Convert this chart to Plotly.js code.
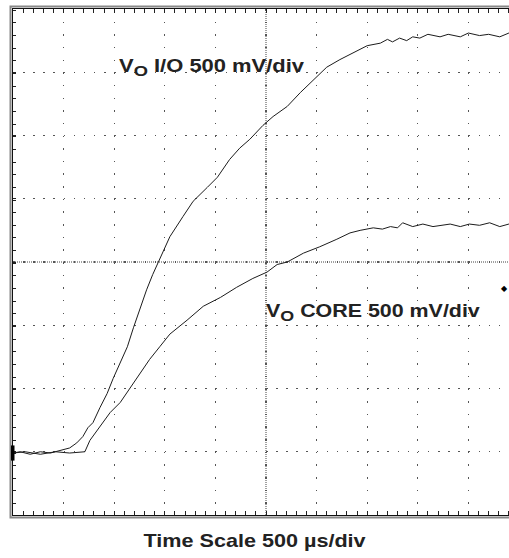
<!DOCTYPE html>
<html>
<head>
<meta charset="utf-8">
<script src="https://cdn.plot.ly/plotly-3.0.1.min.js"></script>
<style>
html, body { margin: 0; padding: 0; overflow: hidden; background: #fff; }
#chart { width: 530px; height: 558px; }
</style>
</head>
<body>
<div id="chart"></div>
<script>
// Time in microseconds (500 us/div), voltage in volts (500 mV/div)
const ioTime = [0, 70, 170, 270, 370, 460, 560, 630, 690, 740, 790, 860, 930, 990, 1060, 1130, 1190, 1250, 1320, 1380, 1450, 1550, 1680, 1780, 1920, 2020, 2140, 2240, 2340, 2470, 2570, 2710, 2840, 2960, 3100, 3230, 3360, 3500, 3630, 3700, 3750, 3820, 3890, 3950, 4020, 4100, 4220, 4300, 4420, 4500, 4610, 4700, 4810, 4900, 5000];
const ioVolt = [0.00, 0.01, -0.01, 0.01, 0.00, 0.02, 0.04, 0.08, 0.13, 0.20, 0.24, 0.36, 0.47, 0.59, 0.71, 0.84, 0.99, 1.13, 1.29, 1.41, 1.53, 1.71, 1.87, 1.99, 2.10, 2.18, 2.32, 2.41, 2.48, 2.59, 2.66, 2.74, 2.85, 2.94, 3.05, 3.11, 3.16, 3.22, 3.24, 3.27, 3.25, 3.28, 3.26, 3.29, 3.28, 3.31, 3.29, 3.31, 3.29, 3.32, 3.30, 3.31, 3.29, 3.32, 3.31];
const coreTime = [0, 120, 270, 420, 560, 710, 760, 830, 960, 1060, 1160, 1250, 1350, 1450, 1550, 1720, 1880, 2050, 2210, 2370, 2510, 2610, 2710, 2870, 3030, 3200, 3330, 3430, 3560, 3650, 3730, 3800, 3850, 3950, 4050, 4150, 4220, 4320, 4420, 4510, 4610, 4710, 4810, 4900, 5000];
const coreVolt = [0.00, 0.01, -0.01, 0.01, 0.00, 0.01, 0.10, 0.18, 0.32, 0.40, 0.52, 0.63, 0.74, 0.84, 0.94, 1.05, 1.16, 1.23, 1.31, 1.38, 1.43, 1.49, 1.51, 1.58, 1.63, 1.69, 1.74, 1.76, 1.78, 1.77, 1.79, 1.78, 1.82, 1.79, 1.81, 1.79, 1.80, 1.81, 1.79, 1.81, 1.80, 1.82, 1.79, 1.81, 1.80];
const labels = ["V<sub><span style=\"font-size:15px\">O</span></sub> I/O 500 mV/div", "V<sub><span style=\"font-size:15px\">O</span></sub> CORE 500 mV/div", "Time Scale 500 \u00b5s/div"];
const triggerLevel = 1.30;

const traceLine = { color: '#1c1c1c', width: 1 };
const data = [
  { x: ioTime, y: ioVolt, type: 'scatter', mode: 'lines', line: traceLine, name: 'VO I/O', hoverinfo: 'skip' },
  { x: coreTime, y: coreVolt, type: 'scatter', mode: 'lines', line: traceLine, name: 'VO CORE', hoverinfo: 'skip' }
];

const xr = [0, 5000], yr = [-0.49, 3.51];
const W = 530, H = 558, ml = 13, mr = 11, mt = 9, mb = 43;
const pw = W - ml - mr, ph = H - mt - mb;
const vStep = ph / 40, hStep = pw / 50;

function crossAxis(extra) {
  return Object.assign({ showgrid: false, zeroline: false, showline: false, showticklabels: false,
    ticklen: 3, tickwidth: 1, tickcolor: '#333' }, extra);
}

const layout = {
  width: W, height: H,
  margin: { l: ml, r: mr, t: mt, b: mb, pad: 0 },
  paper_bgcolor: '#fff', plot_bgcolor: '#fff',
  showlegend: false,
  font: { family: 'Liberation Sans, Arial, sans-serif', color: '#222' },
  xaxis: {
    range: xr, tick0: 0, dtick: 500, showticklabels: false, zeroline: false,
    showgrid: true, gridcolor: '#555', gridwidth: 1.3, griddash: '1.5px,' + (vStep - 1.5).toFixed(2) + 'px',
    showline: true, linecolor: '#111', linewidth: 1, mirror: 'ticks',
    ticks: 'inside', ticklen: 4, tickwidth: 1, tickcolor: '#222',
    minor: { dtick: 100, ticks: 'inside', ticklen: 4, tickwidth: 1, tickcolor: '#222', showgrid: false }
  },
  yaxis: {
    range: yr, tick0: 0.01, dtick: 0.5, showticklabels: false, zeroline: false,
    showgrid: true, gridcolor: '#555', gridwidth: 1.3, griddash: '1.5px,' + (hStep - 1.5).toFixed(2) + 'px',
    showline: true, linecolor: '#111', linewidth: 1, mirror: 'ticks',
    ticks: 'inside', ticklen: 3, tickwidth: 1, tickcolor: '#222',
    minor: { dtick: 0.1, ticks: 'inside', ticklen: 3, tickwidth: 1, tickcolor: '#222', showgrid: false }
  },
  xaxis2: crossAxis({ overlaying: 'x', anchor: 'free', position: 0.5, range: xr, tick0: 0, dtick: 100, ticks: 'outside' }),
  xaxis3: crossAxis({ overlaying: 'x', anchor: 'free', position: 0.5, range: xr, tick0: 0, dtick: 100, ticks: 'inside' }),
  yaxis2: crossAxis({ overlaying: 'y', anchor: 'free', position: 0.5, range: yr, tick0: 0.01, dtick: 0.1, ticks: 'outside' }),
  yaxis3: crossAxis({ overlaying: 'y', anchor: 'free', position: 0.5, range: yr, tick0: 0.01, dtick: 0.1, ticks: 'inside' }),
  shapes: [
    { type: 'line', xref: 'paper', yref: 'paper', x0: 0, x1: 1, y0: 0.5, y1: 0.5, line: { color: '#444', width: 1, dash: '1px,1px' }, layer: 'below' },
    { type: 'line', xref: 'paper', yref: 'paper', x0: 0.5, x1: 0.5, y0: 0, y1: 1, line: { color: '#444', width: 1, dash: '1px,1px' }, layer: 'below' },
    { type: 'rect', xref: 'paper', yref: 'paper', x0: -2.5 / pw, x1: 1 + 2.5 / pw, y0: -2.5 / ph, y1: 1 + 2.5 / ph, line: { color: '#888', width: 2 } },
    { type: 'rect', xref: 'paper', yref: 'y', x0: -2 / pw, x1: 1.5 / pw, y0: -0.06, y1: 0.06, line: { width: 0 }, fillcolor: '#000' }
  ],
  annotations: [
    { text: labels[0], xref: 'paper', yref: 'paper', x: (117 - ml) / pw, y: (H - mb - 67) / ph, xanchor: 'left', yanchor: 'middle', showarrow: false, font: { size: 18, color: '#222', weight: 'bold' } },
    { text: labels[1], xref: 'paper', yref: 'paper', x: (264 - ml) / pw, y: (H - mb - 312) / ph, xanchor: 'left', yanchor: 'middle', showarrow: false, font: { size: 18, color: '#222', weight: 'bold' } },
    { text: labels[2], xref: 'paper', yref: 'paper', x: (254 - ml) / pw, y: (H - mb - 541) / ph, xanchor: 'center', yanchor: 'middle', showarrow: false, font: { size: 18, color: '#222', weight: 'bold' } },
    { text: '\u25C6', xref: 'paper', yref: 'y', x: (504 - ml) / pw, y: triggerLevel, xanchor: 'center', yanchor: 'middle', showarrow: false, font: { size: 8, color: '#000' } }
  ]
};

// horizontal stretch of the scope's label lettering (origin: left for labels, centre for time-scale)
const stretch = [{ s: 1.22, o: '0% 50%' }, { s: 1.19, o: '0% 50%' }, { s: 1.2, o: '50% 50%' }];

Plotly.newPlot('chart', data, layout, { displayModeBar: false, staticPlot: true }).then(function (gd) {
  stretch.forEach(function (st, i) {
    const t = gd.querySelector('g.annotation[data-index="' + i + '"] text.annotation-text');
    if (t) {
      t.style.transformBox = 'fill-box';
      t.style.transformOrigin = st.o;
      t.style.transform = 'scaleX(' + st.s + ')';
    }
  });
});
</script>
</body>
</html>
